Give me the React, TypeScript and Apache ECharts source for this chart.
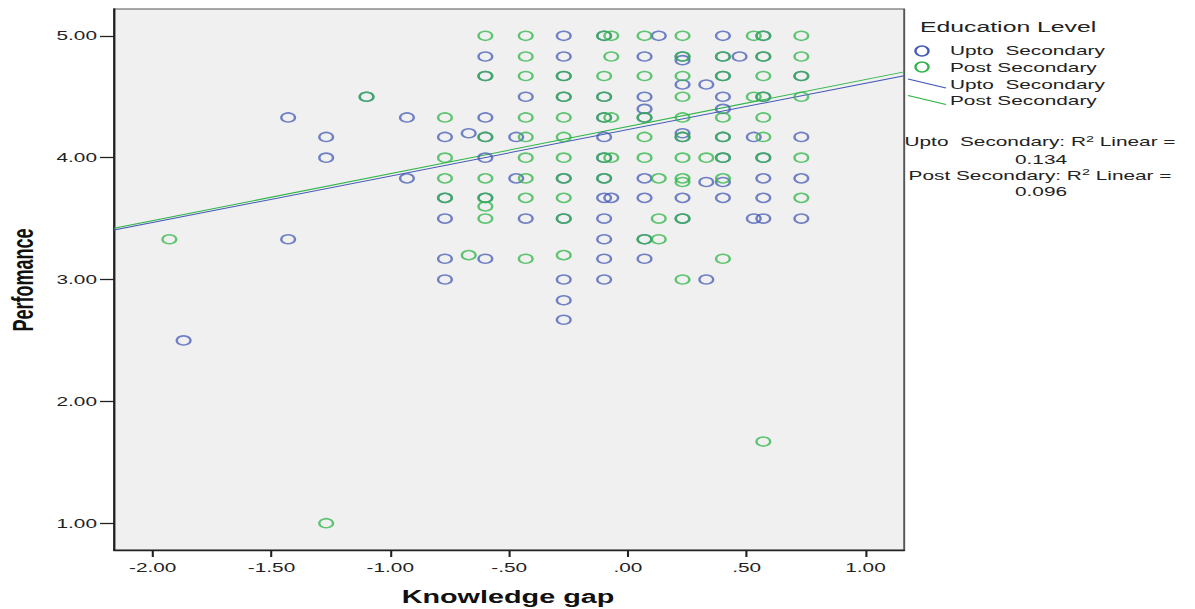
import React, { useEffect, useRef } from "react";
import * as echarts from "echarts";

// ---------- data ----------
const xAxisTitle = "Knowledge gap";
const yAxisTitle = "Perfomance";
const legendTitle = "Education Level";
const groupNames = ["Upto  Secondary", "Post Secondary"];
const rSquaredValues = ["0.134", "0.096"];

const xRange = [-2.163, 1.163];
const yRange = [0.78, 5.22];
const xTickValues = [-2, -1.5, -1, -0.5, 0, 0.5, 1];
const yTickValues = [1, 2, 3, 4, 5];

const uptoSecondaryPoints: [number, number][] = [
  [-1.87, 2.5], [-1.43, 4.33], [-1.43, 3.33], [-1.27, 4.17], [-1.27, 4.0],
  [-1.1, 4.5], [-0.93, 4.33], [-0.93, 3.83],
  [-0.77, 4.17], [-0.77, 3.67], [-0.77, 3.5], [-0.77, 3.17], [-0.77, 3.0],
  [-0.67, 4.2],
  [-0.6, 4.83], [-0.6, 4.67], [-0.6, 4.33], [-0.6, 4.17], [-0.6, 4.0], [-0.6, 3.67], [-0.6, 3.17],
  [-0.47, 4.17], [-0.47, 3.83], [-0.43, 4.5], [-0.43, 3.5],
  [-0.27, 5.0], [-0.27, 4.83], [-0.27, 4.67], [-0.27, 4.5], [-0.27, 3.83], [-0.27, 3.5],
  [-0.27, 3.0], [-0.27, 2.83], [-0.27, 2.67],
  [-0.1, 5.0], [-0.1, 4.5], [-0.1, 4.33], [-0.1, 4.17], [-0.1, 4.0], [-0.1, 3.83],
  [-0.1, 3.67], [-0.1, 3.5], [-0.1, 3.33], [-0.1, 3.17], [-0.1, 3.0],
  [-0.07, 3.67],
  [0.07, 4.83], [0.07, 4.5], [0.07, 4.4], [0.07, 4.33], [0.07, 3.83], [0.07, 3.67],
  [0.07, 3.33], [0.07, 3.17],
  [0.13, 5.0],
  [0.23, 4.83], [0.23, 4.8], [0.23, 4.6], [0.23, 4.2], [0.23, 4.17], [0.23, 3.67], [0.23, 3.5],
  [0.33, 4.6], [0.33, 3.8], [0.33, 3.0],
  [0.4, 5.0], [0.4, 4.83], [0.4, 4.67], [0.4, 4.5], [0.4, 4.4], [0.4, 4.17], [0.4, 4.0],
  [0.4, 3.8], [0.4, 3.67],
  [0.47, 4.83], [0.53, 4.17], [0.53, 3.5],
  [0.57, 5.0], [0.57, 4.83], [0.57, 4.5], [0.57, 4.0], [0.57, 3.83], [0.57, 3.67], [0.57, 3.5],
  [0.73, 4.67], [0.73, 4.17], [0.73, 3.83], [0.73, 3.5],
];

const postSecondaryPoints: [number, number][] = [
  [-1.93, 3.33], [-1.27, 1.0], [-1.1, 4.5],
  [-0.77, 4.33], [-0.77, 4.0], [-0.77, 3.83], [-0.77, 3.67],
  [-0.67, 3.2],
  [-0.6, 5.0], [-0.6, 4.67], [-0.6, 4.17], [-0.6, 3.83], [-0.6, 3.67], [-0.6, 3.6], [-0.6, 3.5],
  [-0.43, 5.0], [-0.43, 4.83], [-0.43, 4.67], [-0.43, 4.33], [-0.43, 4.17], [-0.43, 4.0],
  [-0.43, 3.83], [-0.43, 3.67], [-0.43, 3.17],
  [-0.27, 4.67], [-0.27, 4.5], [-0.27, 4.33], [-0.27, 4.17], [-0.27, 4.0], [-0.27, 3.83],
  [-0.27, 3.67], [-0.27, 3.5], [-0.27, 3.2],
  [-0.1, 5.0], [-0.1, 4.67], [-0.1, 4.5], [-0.1, 4.33], [-0.1, 4.0], [-0.1, 3.83],
  [-0.07, 5.0], [-0.07, 4.83], [-0.07, 4.33], [-0.07, 4.0],
  [0.07, 5.0], [0.07, 4.67], [0.07, 4.33], [0.07, 4.17], [0.07, 4.0], [0.07, 3.33],
  [0.13, 3.83], [0.13, 3.5], [0.13, 3.33],
  [0.23, 5.0], [0.23, 4.83], [0.23, 4.67], [0.23, 4.5], [0.23, 4.33], [0.23, 4.17], [0.23, 4.0],
  [0.23, 3.83], [0.23, 3.8], [0.23, 3.5], [0.23, 3.0],
  [0.33, 4.0],
  [0.4, 4.83], [0.4, 4.67], [0.4, 4.33], [0.4, 4.17], [0.4, 4.0], [0.4, 3.83], [0.4, 3.17],
  [0.53, 5.0], [0.53, 4.5],
  [0.57, 5.0], [0.57, 4.83], [0.57, 4.67], [0.57, 4.5], [0.57, 4.33], [0.57, 4.17], [0.57, 4.0],
  [0.57, 1.67],
  [0.73, 5.0], [0.73, 4.83], [0.73, 4.67], [0.73, 4.5], [0.73, 4.0], [0.73, 3.67],
];

// fit line end points read at the plot edges
const uptoSecondaryFitLine: [number, number][] = [[-2.163, 3.406], [1.163, 4.673]];
const postSecondaryFitLine: [number, number][] = [[-2.163, 3.42], [1.163, 4.704]];

// ---------- styling ----------
const S = 1.6; // horizontal stretch of the original picture
const W = 1195 / S;
const H = 609;
const BLUE = "#4459b6";
const GREEN = "#2fb548";
const FONT = "'Liberation Sans', Arial, sans-serif";

const fmtX = (v: number) => v.toFixed(2).replace(/^(-?)0\./, "$1.");
const fmtY = (v: number) => v.toFixed(2);

export default function App() {
  const ref = useRef<HTMLDivElement>(null);

  useEffect(() => {
    if (!ref.current) return;
    const chart = echarts.init(ref.current, undefined, { renderer: "svg" });
    const px = (realX: number) => realX / S;

    const legendText = (text: string, x: number, y: number) => ({
      type: "text",
      x,
      y,
      style: {
        text,
        fontFamily: FONT,
        fontSize: 13,
        fill: "#222",
        textAlign: "left",
        textVerticalAlign: "middle",
      },
    });

    const r2Text = (name: string, y: number) => ({
      type: "text",
      x: px(1040),
      y,
      style: {
        text: `{n|${name}: R}{s|2}{n| Linear =}`,
        fontFamily: FONT,
        fontSize: 13,
        fill: "#222",
        textAlign: "center",
        textVerticalAlign: "middle",
        rich: {
          n: { fontSize: 13, fontFamily: FONT, fill: "#222", lineHeight: 16 },
          s: { fontSize: 9, fontFamily: FONT, fill: "#222", verticalAlign: "top", lineHeight: 16, padding: [0, 0, 6, 0] },
        },
      },
    });

    const plainCenter = (text: string, y: number) => ({
      type: "text",
      x: px(1041),
      y,
      style: {
        text,
        fontFamily: FONT,
        fontSize: 13,
        fill: "#222",
        textAlign: "center",
        textVerticalAlign: "middle",
      },
    });

    const option: any = {
      animation: false,
      backgroundColor: "#ffffff",
      grid: {
        left: px(114),
        right: W - px(904),
        top: 9,
        bottom: 59,
        containLabel: false,
        outerBoundsMode: "none",
        show: true,
        backgroundColor: "#f0f0f0",
        borderColor: "#555",
        borderWidth: 1.2,
      },
      xAxis: {
        type: "value",
        min: xRange[0],
        max: xRange[1],
        splitLine: { show: false },
        axisLine: { show: true, onZero: false, lineStyle: { color: "#222", width: 1.3 } },
        axisTick: { show: true, customValues: xTickValues, length: 7, lineStyle: { color: "#222", width: 1.3 } },
        axisLabel: {
          customValues: xTickValues,
          formatter: fmtX,
          fontFamily: FONT,
          fontSize: 13,
          color: "#222",
          margin: 11,
        },
      },
      yAxis: {
        type: "value",
        min: yRange[0],
        max: yRange[1],
        splitLine: { show: false },
        axisLine: { show: true, onZero: false, lineStyle: { color: "#222", width: 1.3 } },
        axisTick: { show: true, customValues: yTickValues, length: px(14), lineStyle: { color: "#222", width: 1.3 } },
        axisLabel: {
          customValues: yTickValues,
          formatter: fmtY,
          fontFamily: FONT,
          fontSize: 13,
          color: "#222",
          margin: px(17),
        },
      },
      series: [
        {
          name: groupNames[0] + " fit",
          type: "line",
          data: uptoSecondaryFitLine,
          symbol: "none",
          silent: true,
          lineStyle: { color: BLUE, width: 1 },
          z: 1,
        },
        {
          name: groupNames[1] + " fit",
          type: "line",
          data: postSecondaryFitLine,
          symbol: "none",
          silent: true,
          lineStyle: { color: GREEN, width: 1 },
          z: 1,
        },
        {
          name: groupNames[0],
          type: "scatter",
          data: uptoSecondaryPoints,
          symbol: "circle",
          symbolSize: [8.6, 9],
          itemStyle: { color: "rgba(0,0,0,0)", borderColor: BLUE, borderWidth: 1.5, opacity: 0.75 },
          z: 2,
        },
        {
          name: groupNames[1],
          type: "scatter",
          data: postSecondaryPoints,
          symbol: "circle",
          symbolSize: [8.6, 9],
          itemStyle: { color: "rgba(0,0,0,0)", borderColor: GREEN, borderWidth: 1.5, opacity: 0.75 },
          z: 3,
        },
      ],
      graphic: [
        {
          type: "text",
          x: px(508),
          y: 597,
          style: {
            text: xAxisTitle,
            fontFamily: FONT,
            fontSize: 18,
            fontWeight: "bold",
            fill: "#111",
            textAlign: "center",
            textVerticalAlign: "middle",
          },
        },
        {
          type: "text",
          x: px(23),
          y: 280,
          rotation: Math.PI / 2,
          style: {
            text: yAxisTitle,
            fontFamily: FONT,
            fontSize: 18,
            fontWeight: "bold",
            fill: "#111",
            textAlign: "center",
            textVerticalAlign: "middle",
          },
        },
        {
          type: "text",
          x: px(920),
          y: 26,
          style: {
            text: legendTitle,
            fontFamily: FONT,
            fontSize: 15.5,
            fill: "#222",
            textAlign: "left",
            textVerticalAlign: "middle",
          },
        },
        {
          type: "ellipse",
          shape: { cx: px(922), cy: 51, rx: 4.1, ry: 5 },
          style: { fill: "none", stroke: BLUE, lineWidth: 1.5 },
        },
        {
          type: "ellipse",
          shape: { cx: px(922), cy: 67, rx: 4.1, ry: 5 },
          style: { fill: "none", stroke: GREEN, lineWidth: 1.5 },
        },
        {
          type: "line",
          shape: { x1: px(908), y1: 79, x2: px(946), y2: 88 },
          style: { stroke: BLUE, lineWidth: 1 },
        },
        {
          type: "line",
          shape: { x1: px(908), y1: 95.5, x2: px(946), y2: 104.5 },
          style: { stroke: GREEN, lineWidth: 1 },
        },
        legendText(groupNames[0], px(950), 51),
        legendText(groupNames[1], px(950), 67.5),
        legendText(groupNames[0], px(950), 85),
        legendText(groupNames[1], px(950), 101),
        r2Text(groupNames[0], 142),
        plainCenter(rSquaredValues[0], 159.5),
        r2Text(groupNames[1], 175.5),
        plainCenter(rSquaredValues[1], 192),
      ],
    };

    chart.setOption(option);
    return () => chart.dispose();
  }, []);

  return (
    <div
      ref={ref}
      style={{
        position: "absolute",
        left: 0,
        top: 0,
        width: W,
        height: H,
        transform: `scaleX(${S})`,
        transformOrigin: "0 0",
      }}
    />
  );
}
